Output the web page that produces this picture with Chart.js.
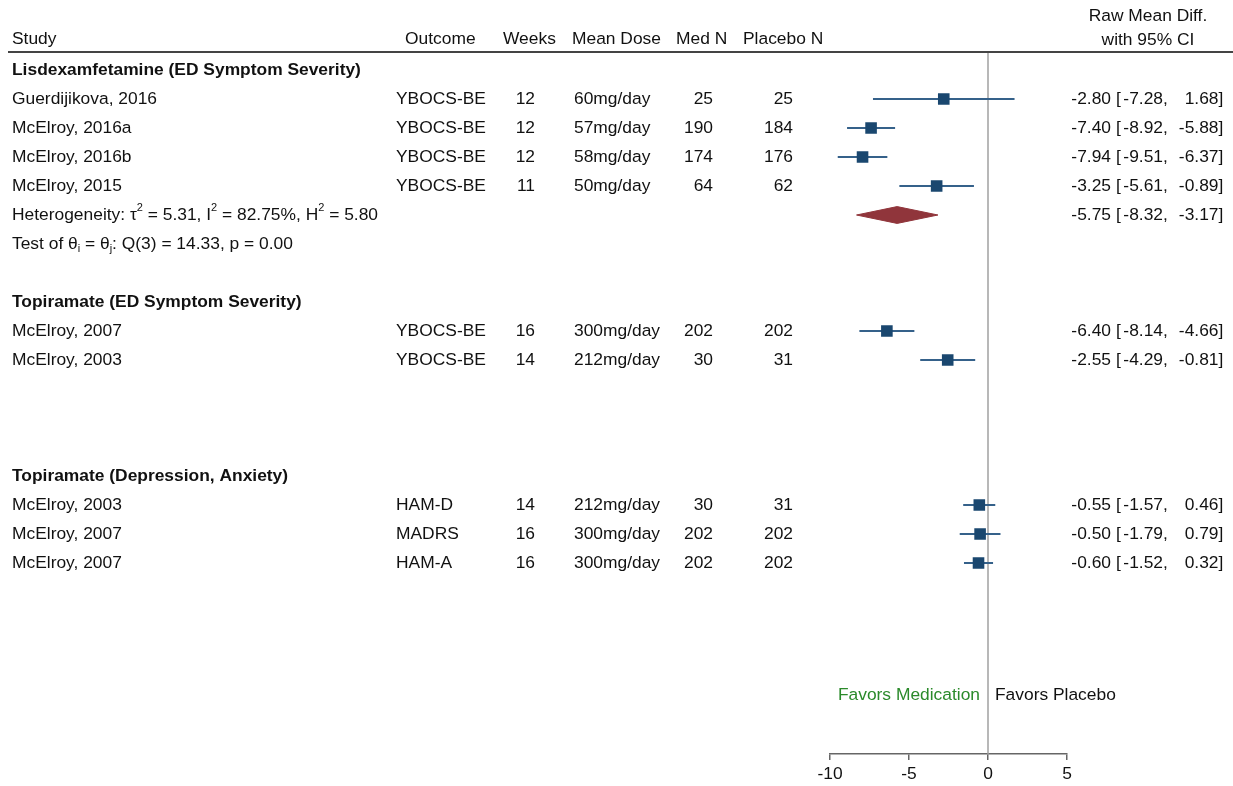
<!DOCTYPE html>
<html>
<head>
<meta charset="utf-8">
<script src="https://cdn.jsdelivr.net/npm/chart.js@4.4.1/dist/chart.umd.min.js"></script>
<style>
  html, body { margin: 0; padding: 0; background: #fff; }
  #wrap { width: 1233px; height: 786px; position: relative; }
</style>
</head>
<body>
<div id="wrap"><canvas id="forest"></canvas></div>
<script>
// --- data ---
const groupNames = ['Lisdexamfetamine (ED Symptom Severity)', 'Topiramate (ED Symptom Severity)', 'Topiramate (Depression, Anxiety)'];
const groupRows = [-1, 7, 13];

const studies = ['Guerdijikova, 2016', 'McElroy, 2016a', 'McElroy, 2016b', 'McElroy, 2015', 'McElroy, 2007', 'McElroy, 2003', 'McElroy, 2003', 'McElroy, 2007', 'McElroy, 2007'];
const outcomes = ['YBOCS-BE', 'YBOCS-BE', 'YBOCS-BE', 'YBOCS-BE', 'YBOCS-BE', 'YBOCS-BE', 'HAM-D', 'MADRS', 'HAM-A'];
const weeks = [12, 12, 12, 11, 16, 14, 14, 16, 16];
const doses = ['60mg/day', '57mg/day', '58mg/day', '50mg/day', '300mg/day', '212mg/day', '212mg/day', '300mg/day', '300mg/day'];
const medN = [25, 190, 174, 64, 202, 30, 30, 202, 202];
const placeboN = [25, 184, 176, 62, 202, 31, 31, 202, 202];
const effects = [-2.80, -7.40, -7.94, -3.25, -6.40, -2.55, -0.55, -0.50, -0.60];
const lowerCI = [-7.28, -8.92, -9.51, -5.61, -8.14, -4.29, -1.57, -1.79, -1.52];
const upperCI = [1.68, -5.88, -6.37, -0.89, -4.66, -0.81, 0.46, 0.79, 0.32];
const studyRows = [0, 1, 2, 3, 8, 9, 14, 15, 16];

const pooledEffect = -5.75;
const pooledLower = -8.32;
const pooledUpper = -3.17;
const pooledRow = 4;
const testRow = 5;

const xTicks = [-10, -5, 0, 5];

const columnHeaders = ['Study', 'Outcome', 'Weeks', 'Mean Dose', 'Med N', 'Placebo N'];
const effectHeader = ['Raw Mean Diff.', 'with 95% CI'];
const heterogeneityRuns = [['Heterogeneity: \u03C4', ''], ['2', 'sup'], [' = 5.31, I', ''], ['2', 'sup'], [' = 82.75%, H', ''], ['2', 'sup'], [' = 5.80', '']];
const testRuns = [['Test of \u03B8', ''], ['i', 'sub'], [' = \u03B8', ''], ['j', 'sub'], [': Q(3) = 14.33, p = 0.00', '']];
const favorsLeft = 'Favors Medication';
const favorsRight = 'Favors Placebo';

// --- layout ---
const ROW_H = 29;
const FIRST_ROW_Y = 99;
const AXIS_Y = 754;
const HEADER_LINE_Y = 52;
const FONT = '"Liberation Sans", Arial, sans-serif';
const FSIZE = 17.4;
const MARKER = '#1a476f';
const CI_COLOR = '#35618a';
const DIAMOND = '#90353b';

const fmt = v => v.toFixed(2);

function text(ctx, s, x, y, align, bold, color) {
  ctx.font = (bold ? 'bold ' : '') + FSIZE + 'px ' + FONT;
  ctx.textAlign = align || 'left';
  ctx.textBaseline = 'middle';
  ctx.fillStyle = color || '#111';
  ctx.fillText(s, x, y);
}

function runs(ctx, parts, x, y) {
  ctx.textAlign = 'left';
  ctx.textBaseline = 'middle';
  ctx.fillStyle = '#111';
  parts.forEach(([s, kind]) => {
    ctx.font = (kind ? 11 : FSIZE) + 'px ' + FONT;
    const dy = kind === 'sup' ? -7 : kind === 'sub' ? 5 : 0;
    ctx.fillText(s, x, y + dy);
    x += ctx.measureText(s).width;
  });
}

function ciText(ctx, est, lo, hi, y) {
  text(ctx, fmt(est), 1111, y, 'right');
  text(ctx, '[', 1116, y, 'left');
  text(ctx, fmt(lo), 1163, y, 'right');
  text(ctx, ',', 1163, y, 'left');
  text(ctx, fmt(hi), 1218.5, y, 'right');
  text(ctx, ']', 1218.5, y, 'left');
}

const tablePlugin = {
  id: 'tablePlugin',
  beforeDatasetsDraw(chart) {
    const {ctx, scales, chartArea} = chart;
    const x0 = scales.x.getPixelForValue(0);
    ctx.save();
    ctx.strokeStyle = '#a0a0a0';
    ctx.lineWidth = 1.5;
    ctx.beginPath();
    ctx.moveTo(x0, HEADER_LINE_Y);
    ctx.lineTo(x0, chartArea.bottom);
    ctx.stroke();
    ctx.restore();
  },
  afterDraw(chart) {
    const {ctx, scales} = chart;
    const yOf = r => scales.y.getPixelForValue(r);
    ctx.save();

    // header
    const hy = 39;
    text(ctx, columnHeaders[0], 12, hy);
    text(ctx, columnHeaders[1], 405, hy);
    text(ctx, columnHeaders[2], 503, hy);
    text(ctx, columnHeaders[3], 572, hy);
    text(ctx, columnHeaders[4], 676, hy);
    text(ctx, columnHeaders[5], 743, hy);
    text(ctx, effectHeader[0], 1148, 16, 'center');
    text(ctx, effectHeader[1], 1148, 40, 'center');

    ctx.strokeStyle = '#444';
    ctx.lineWidth = 2;
    ctx.beginPath();
    ctx.moveTo(8, HEADER_LINE_Y);
    ctx.lineTo(1233, HEADER_LINE_Y);
    ctx.stroke();

    groupNames.forEach((g, i) => text(ctx, g, 12, yOf(groupRows[i]), 'left', true));

    studies.forEach((s, i) => {
      const y = yOf(studyRows[i]);
      text(ctx, s, 12, y);
      text(ctx, outcomes[i], 396, y);
      text(ctx, String(weeks[i]), 535, y, 'right');
      text(ctx, doses[i], 574, y);
      text(ctx, String(medN[i]), 713, y, 'right');
      text(ctx, String(placeboN[i]), 793, y, 'right');
      ciText(ctx, effects[i], lowerCI[i], upperCI[i], y);
    });

    runs(ctx, heterogeneityRuns, 12, yOf(pooledRow));
    runs(ctx, testRuns, 12, yOf(testRow));
    ciText(ctx, pooledEffect, pooledLower, pooledUpper, yOf(pooledRow));

    const x0 = scales.x.getPixelForValue(0);
    text(ctx, favorsLeft, x0 - 8, 695, 'right', false, '#2b8a2b');
    text(ctx, favorsRight, x0 + 7, 695, 'left', false, '#111');
    ctx.restore();
  }
};

// --- datasets ---
const ciSets = studies.map((_, i) => ({
  type: 'scatter',
  data: [{x: lowerCI[i], y: studyRows[i]}, {x: upperCI[i], y: studyRows[i]}],
  showLine: true,
  borderColor: CI_COLOR,
  borderWidth: 2,
  pointRadius: 0,
  order: 2
}));

const halfH = 0.29;
const diamondSet = {
  type: 'scatter',
  data: [
    {x: pooledLower, y: pooledRow},
    {x: pooledEffect, y: pooledRow - halfH},
    {x: pooledUpper, y: pooledRow},
    {x: pooledEffect, y: pooledRow + halfH},
    {x: pooledLower, y: pooledRow}
  ],
  showLine: true,
  fill: 'shape',
  borderColor: DIAMOND,
  borderWidth: 1,
  backgroundColor: DIAMOND,
  pointRadius: 0,
  order: 1
};

const pointSet = {
  type: 'scatter',
  data: effects.map((e, i) => ({x: e, y: studyRows[i]})),
  pointStyle: 'rect',
  pointRadius: 8.2,
  backgroundColor: MARKER,
  borderWidth: 0,
  order: 0
};

const chart = new Chart(document.getElementById('forest'), {
  type: 'scatter',
  data: { datasets: [...ciSets, diamondSet, pointSet] },
  options: {
    responsive: true,
    maintainAspectRatio: false,
    animation: false,
    events: [],
    layout: { padding: { left: 830, right: 166, top: 0, bottom: 0 } },
    plugins: { legend: { display: false }, tooltip: { enabled: false } },
    scales: {
      x: {
        type: 'linear',
        min: xTicks[0],
        max: xTicks[xTicks.length - 1],
        afterBuildTicks: scale => { scale.ticks = xTicks.map(v => ({value: v})); },
        afterFit: scale => { scale.height = 786 - AXIS_Y; },
        grid: { drawOnChartArea: false, drawTicks: true, tickLength: 6, color: '#666', lineWidth: 1.5 },
        border: { display: true, color: '#666', width: 1.5 },
        ticks: { color: '#111', font: { family: FONT, size: FSIZE }, padding: 4 }
      },
      y: {
        type: 'linear',
        display: false,
        reverse: true,
        min: -FIRST_ROW_Y / ROW_H,
        max: (AXIS_Y - FIRST_ROW_Y) / ROW_H
      }
    }
  },
  plugins: [tablePlugin]
});

// anchor the row scale to the real plot area so rows land on the 29px grid
const ca = chart.chartArea;
chart.options.scales.y.min = (ca.top - FIRST_ROW_Y) / ROW_H;
chart.options.scales.y.max = (ca.bottom - FIRST_ROW_Y) / ROW_H;
chart.update();
</script>
</body>
</html>
